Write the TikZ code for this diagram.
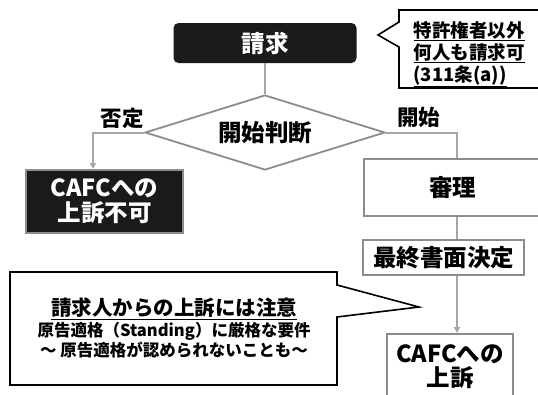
\documentclass[tikz,border=0pt]{standalone}
\usepackage{fontspec}
\setmainfont{Noto Sans CJK JP}
\usetikzlibrary{shapes.geometric,arrows.meta}
\definecolor{linkgray}{HTML}{A6A6A6}
\definecolor{boxgray}{HTML}{8C8C8C}
\definecolor{boxblack}{HTML}{1A1A1A}

\begin{document}
\begin{tikzpicture}[x=1pt, y=-1pt,
    endbox/.style={rectangle,fill=boxblack,text=white,align=center,inner sep=0pt,font=\bfseries\fontsize{23.5}{25}\selectfont},
    stepbox/.style={rectangle,draw=boxgray,line width=2pt,fill=white,align=center,inner sep=0pt,font=\bfseries\fontsize{23.5}{24}\selectfont},
    decision/.style={diamond,aspect=3.2,draw=boxgray,line width=1.8pt,fill=white,inner sep=0pt,minimum width=240pt,minimum height=75pt,font=\bfseries\fontsize{23.5}{24}\selectfont},
    tag/.style={inner sep=0pt,font=\bfseries\fontsize{21.5}{22}\selectfont},
    link/.style={linkgray,line width=2pt},
    arrow/.style={link,-{Triangle[length=6pt,width=6pt]}},
    balloon/.style={draw=black,line width=1.6pt,fill=white,line join=miter},
    note/.style={inner sep=0pt,font=\bfseries\fontsize{18.5}{22}\selectfont}
]
    \useasboundingbox (0,0) rectangle (538,394);

    % flow
    \node[endbox,rounded corners=5pt,minimum width=183pt,minimum height=40pt] (req) at (265,43) {請求};
    \node[decision] (dec) at (265,132.5) {開始判断};
    \node[endbox,draw=boxgray,line width=2pt,minimum width=157pt,minimum height=63pt] (deny) at (104.5,201.5) {CAFCへの\\上訴不可};
    \node[stepbox,minimum width=177pt,minimum height=57pt] (exam) at (452.5,187.5) {審理};
    \node[stepbox,minimum width=161pt,minimum height=35pt] (final) at (443.5,257.5) {最終書面決定};
    \node[stepbox,minimum width=126pt,minimum height=65pt] (appeal) at (450,366.5) {CAFCへの\\上訴};

    \node[tag] (neg) at (122,118) {否定};
    \node[tag] (pos) at (418.5,117) {開始};

    \coordinate (lx) at (93,0);
    \coordinate (rx) at (457,0);

    \draw[link] (req.south) -- (dec.north);
    \draw[arrow] (dec.west) -| (lx |- deny.north);
    \draw[link] (dec.east) -| (rx |- exam.north);
    \draw[link] (rx |- exam.south) -- (rx |- final.north);
    \draw[arrow] (rx |- final.south) -- (rx |- appeal.north);

    % callouts
    \draw[balloon] (399,10) -- (548,10) -- (548,88) -- (399,88) -- (399,47) -- (378,35) -- (399,22) -- cycle;
    \node[note,align=left] (who) at (469,54) {\underline{特許権者以外}\\\underline{何人も請求可}\\\underline{(311条(a))}};

    \draw[balloon] (10,272) -- (337,272) -- (337,285) -- (419,307) -- (337,317) -- (337,385) -- (10,385) -- cycle;
    \node[note,align=center,font=\bfseries\fontsize{16.5}{18}\selectfont] (caution) at (174,328)
        {{\fontsize{20.5}{20}\selectfont\underline{請求人からの上訴には注意}}\\[2pt]
         原告適格（Standing）に厳格な要件\\
         〜 原告適格が認められないことも〜};
\end{tikzpicture}
\end{document}
